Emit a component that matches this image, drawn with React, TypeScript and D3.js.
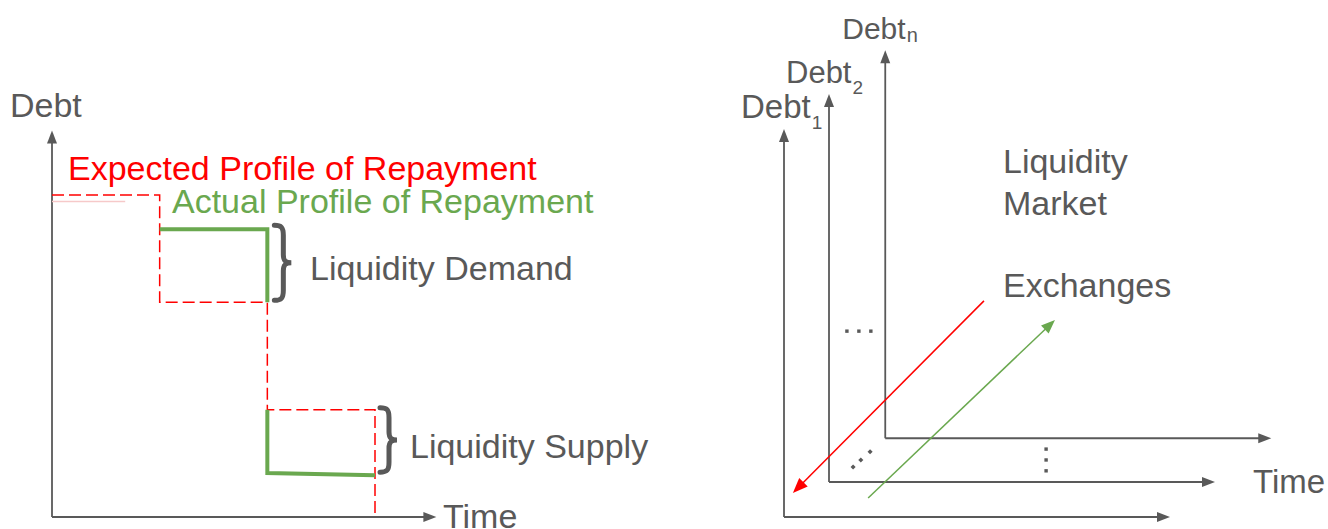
import React from "react";
import * as d3 from "d3";

// left panel: expected vs actual repayment profile (time units, debt units)
const expectedTime = [0, 1, 2, 3];
const expectedDebt = [3, 2, 1, 0];
const ghostTime = [0, 0.68];
const ghostDebt = [2.94, 2.94];
const demandTime = [1, 2, 2];
const demandDebt = [2.68, 2.68, 2.0];
const supplyTime = [2, 2, 3];
const supplyDebt = [1.0, 0.41, 0.39];
const timeAxisMax = 3.57;
const debtAxisMax = 3.6;

// right panel: stacked debt axes by depth
const debtDepth = [0, 1, 2.25];
const debtSub = ["1", "2", "n"];
const debtLabelSize = [33, 31, 30];
const axisLenT = 1;
const axisLenD = 1;
// exchanges arrows, in the frame of the first debt axis (u = time, v = debt)
const redArrowU = [0.518, 0.023];
const redArrowV = [0.557, 0.062];
const greenArrowU = [0.218, 0.702];
const greenArrowV = [0.049, 0.508];
const dotsHU = [0.163, 0.194, 0.225];
const dotsHV = [0.479, 0.479, 0.479];
const dotsDU = [0.179, 0.199, 0.223];
const dotsDV = [0.129, 0.147, 0.168];
const dotsVU = [0.679, 0.679, 0.679];
const dotsVV = [0.175, 0.147, 0.119];

const GREY = "#595959";
const RED = "#ff0000";
const GREEN = "#6aa84f";
const FONT = "'Liberation Sans', Arial, sans-serif";

function head(x1: number, y1: number, x2: number, y2: number, len = 13, half = 5) {
  const a = Math.atan2(y2 - y1, x2 - x1);
  const bx = x2 - len * Math.cos(a);
  const by = y2 - len * Math.sin(a);
  const px = -Math.sin(a) * half;
  const py = Math.cos(a) * half;
  return `${x2},${y2} ${bx + px},${by + py} ${bx - px},${by - py}`;
}

function Arrow({ x1, y1, x2, y2, color, w = 1.8, len = 13, half = 5 }: any) {
  const a = Math.atan2(y2 - y1, x2 - x1);
  const ex = x2 - (len - 2) * Math.cos(a);
  const ey = y2 - (len - 2) * Math.sin(a);
  return (
    <g>
      <line x1={x1} y1={y1} x2={ex} y2={ey} stroke={color} strokeWidth={w} />
      <polygon points={head(x1, y1, x2, y2, len, half)} fill={color} />
    </g>
  );
}

function bracePath(x0: number, y0: number, y1: number) {
  const ym = (y0 + y1) / 2;
  const t = x0 + 9;
  return `M${x0},${y0} C${x0 + 7},${y0} ${t},${y0 + 2} ${t},${y0 + 10} L${t},${ym - 8} C${t},${ym - 2} ${x0 + 11},${ym} ${x0 + 17},${ym} C${x0 + 11},${ym} ${t},${ym + 2} ${t},${ym + 8} L${t},${y1 - 10} C${t},${y1 - 2} ${x0 + 7},${y1} ${x0},${y1}`;
}

export default function App() {
  const x = d3.scaleLinear().domain([0, 3]).range([52, 375]);
  const y = d3.scaleLinear().domain([0, 3]).range([517, 195]);

  const stepLine = d3
    .line<number>()
    .x((_, i) => x(expectedTime[i]))
    .y((d) => y(d))
    .curve(d3.curveStepAfter);
  const plain = (ts: number[]) =>
    d3
      .line<number>()
      .x((_, i) => x(ts[i]))
      .y((d) => y(d));

  const dX = d3.scaleLinear().domain([0, 1]).range([784, 829]);
  const dY = d3.scaleLinear().domain([0, 1]).range([517, 482]);
  const u = d3.scaleLinear().domain([0, 1]).range([0, 386]);
  const v = d3.scaleLinear().domain([0, 1]).range([0, 388]);
  const px = (uu: number) => dX(0) + u(uu);
  const py = (vv: number) => dY(0) - v(vv);

  const b1x = x(2) + 7;
  const b2x = x(3) + 5;

  return (
    <svg
      width={1328}
      height={529}
      style={{ position: "absolute", left: 0, top: 0, background: "#fff" }}
      fontFamily={FONT}
    >
      {/* left panel axes */}
      <line x1={x(0)} y1={y(0)} x2={x(0)} y2={y(debtAxisMax) + 11} stroke={GREY} strokeWidth={1.8} />
      <polygon points={head(x(0), y(0), x(0), y(debtAxisMax))} fill={GREY} />
      <line x1={x(0)} y1={y(0)} x2={x(timeAxisMax) - 11} y2={y(0)} stroke={GREY} strokeWidth={1.8} />
      <polygon points={head(x(0), y(0), x(timeAxisMax), y(0))} fill={GREY} />
      <text x={10} y={117} fontSize={34} fill={GREY}>Debt</text>
      <text x={443} y={528} fontSize={34} fill={GREY}>Time</text>

      {/* expected profile */}
      <path d={plain(ghostTime)(ghostDebt) || ""} fill="none" stroke="#f6c9c9" strokeWidth={1.5} />
      <path
        d={stepLine(expectedDebt) || ""}
        fill="none"
        stroke={RED}
        strokeWidth={1.5}
        strokeDasharray="12,5"
      />
      {/* actual profile */}
      <path d={plain(demandTime)(demandDebt) || ""} fill="none" stroke={GREEN} strokeWidth={4} />
      <path d={plain(supplyTime)(supplyDebt) || ""} fill="none" stroke={GREEN} strokeWidth={4} />

      <text x={68} y={180} fontSize={34} fill={RED}>Expected Profile of Repayment</text>
      <text x={172} y={213} fontSize={34} fill={GREEN}>Actual Profile of Repayment</text>

      {/* braces */}
      <path
        d={bracePath(b1x, y(demandDebt[0]) - 4, y(demandDebt[2]) - 2)}
        fill="none"
        stroke={GREY}
        strokeWidth={5}
        strokeLinecap="round"
      />
      <text x={310} y={280} fontSize={34} fill={GREY}>Liquidity Demand</text>
      <path
        d={bracePath(b2x, y(supplyDebt[0]) - 2, y(supplyDebt[2]) - 3)}
        fill="none"
        stroke={GREY}
        strokeWidth={5}
        strokeLinecap="round"
      />
      <text x={410} y={458} fontSize={34} fill={GREY}>Liquidity Supply</text>

      {/* right panel: stacked axes */}
      {debtDepth.map((d, i) => {
        const ox = dX(d);
        const oy = dY(d);
        const ty = oy - v(axisLenD);
        const tx = ox + u(axisLenT);
        const fs = debtLabelSize[i];
        const isN = debtSub[i] === "n";
        return (
          <g key={i}>
            <line x1={ox} y1={oy} x2={ox} y2={ty + 11} stroke={GREY} strokeWidth={1.8} />
            <polygon points={head(ox, oy, ox, ty)} fill={GREY} />
            <line x1={ox} y1={oy} x2={tx - 11} y2={oy} stroke={GREY} strokeWidth={1.8} />
            <polygon points={head(ox, oy, tx, oy)} fill={GREY} />
            <text x={ox - 43} y={ty - 11.5} fontSize={fs} fill={GREY}>
              Debt
              <tspan dx={isN ? 1 : 1} dy={isN ? 3 : 11} fontSize={isN ? 20 : 19}>
                {debtSub[i]}
              </tspan>
            </text>
          </g>
        );
      })}
      <text x={1253} y={493} fontSize={33} fill={GREY}>Time</text>
      <text x={1003} y={173} fontSize={34} fill={GREY}>Liquidity</text>
      <text x={1003} y={215} fontSize={34} fill={GREY}>Market</text>
      <text x={1003} y={297} fontSize={34} fill={GREY}>Exchanges</text>

      <Arrow
        x1={px(redArrowU[0])}
        y1={py(redArrowV[0])}
        x2={px(redArrowU[1])}
        y2={py(redArrowV[1])}
        color={RED}
        w={1.5}
        len={15}
        half={6}
      />
      <Arrow
        x1={px(greenArrowU[0])}
        y1={py(greenArrowV[0])}
        x2={px(greenArrowU[1])}
        y2={py(greenArrowV[1])}
        color={GREEN}
        w={1.5}
        len={14}
        half={5.5}
      />

      {dotsHU.map((d, i) => (
        <rect key={"h" + i} x={px(d) - 1.7} y={py(dotsHV[i]) - 1.7} width={3.4} height={3.4} fill={GREY} />
      ))}
      {dotsVU.map((d, i) => (
        <rect key={"v" + i} x={px(d) - 1.7} y={py(dotsVV[i]) - 1.7} width={3.4} height={3.4} fill={GREY} />
      ))}
      {dotsDU.map((d, i) => (
        <rect
          key={"d" + i}
          x={-1.8}
          y={-1.8}
          width={3.6}
          height={3.6}
          fill={GREY}
          transform={`translate(${px(d)},${py(dotsDV[i])}) rotate(45)`}
        />
      ))}
    </svg>
  );
}
